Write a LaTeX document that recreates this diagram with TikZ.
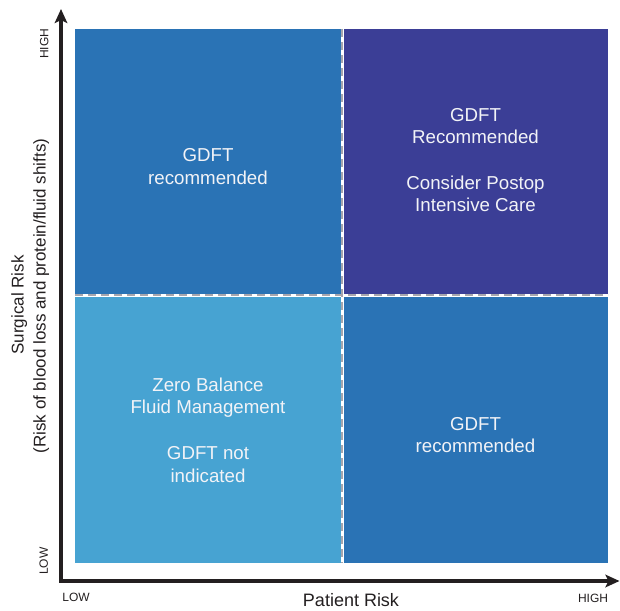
\documentclass[tikz,border=0pt]{standalone}
\usepackage{fontspec}
\setmainfont{Liberation Sans}
\usetikzlibrary{arrows.meta}

\definecolor{midblue}{RGB}{42,115,181}
\definecolor{deepblue}{RGB}{59,62,150}
\definecolor{lightblue}{RGB}{71,163,210}
\definecolor{axisdark}{RGB}{35,31,32}
\definecolor{labeltext}{RGB}{242,243,247}
\definecolor{divider}{RGB}{166,166,174}

\begin{document}
\begin{tikzpicture}[x=1pt,y=-1pt,
  quad/.style={draw=none, inner sep=0pt, outer sep=0pt, anchor=north west},
  quadtext/.style={text=labeltext, align=center, inner sep=0pt,
    font=\fontsize{18.7pt}{22.7pt}\selectfont},
  axisline/.style={draw=axisdark, line width=3.4pt, miter limit=10,
    {Stealth[length=14pt,width=12.5pt,inset=3pt]}-{Stealth[length=14pt,width=12.5pt,inset=3pt]}},
  ticklabel/.style={text=axisdark, inner sep=0pt, font=\fontsize{12pt}{14pt}\selectfont},
  axistitle/.style={text=axisdark, inner sep=0pt, anchor=base},
  divline/.style={draw=divider, line width=1.6pt, dash pattern=on 8pt off 5pt}]

\useasboundingbox (0,0) rectangle (620,610);

% quadrant panels
\node[quad, fill=midblue,   minimum width=265.5pt, minimum height=264.5pt] (tl) at (75,29) {};
\node[quad, fill=deepblue,  minimum width=264.5pt, minimum height=264.5pt] (tr) at (343.5,29) {};
\node[quad, fill=lightblue, minimum width=265.5pt, minimum height=266.5pt] (bl) at (75,296.5) {};
\node[quad, fill=midblue,   minimum width=264.5pt, minimum height=266.5pt] (br) at (343.5,296.5) {};

% dashed dividers between the panels
\coordinate (vtop) at (342,29);
\coordinate (vbot) at (342,563);
\coordinate (hleft) at (75,295);
\coordinate (hright) at (608,295);
\draw[divline] (vtop) -- (vbot);
\draw[divline] (hleft) -- (hright);

% panel texts
\node[quadtext] (tltext) at (208,166.5) {GDFT\\recommended};
\node[quadtext] (trtext) at (475.5,160) {GDFT\\Recommended\\[22.7pt]Consider Postop\\Intensive Care};
\node[quadtext] (bltext) at (208,430) {Zero Balance\\Fluid Management\\[22.7pt]GDFT not\\indicated};
\node[quadtext] (brtext) at (475.5,435) {GDFT\\recommended};

% axes
\coordinate (origin) at (61,581);
\coordinate (ytip) at (61,9);
\coordinate (xtip) at (619.5,581);
\draw[axisline] (ytip) -- (origin) -- (xtip);

% axis labels
\node[ticklabel, rotate=90] (yhigh) at (44.2,44) {HIGH};
\node[ticklabel, rotate=90] (ylow) at (43.8,561) {LOW};
\node[ticklabel] (xlow) at (76,597.5) {LOW};
\node[ticklabel] (xhigh) at (593,598.7) {HIGH};

\node[axistitle, rotate=90, font=\fontsize{17pt}{20pt}\selectfont] (ytitle) at (23.5,305) {Surgical Risk};
\node[axistitle, rotate=90, font=\fontsize{17pt}{20pt}\selectfont] (ysub) at (45.5,296)
  {(Risk of blood loss and protein/fluid shifts)};
\node[axistitle, font=\fontsize{18pt}{22pt}\selectfont] (xtitle) at (351,606.7) {Patient Risk};

\end{tikzpicture}
\end{document}
